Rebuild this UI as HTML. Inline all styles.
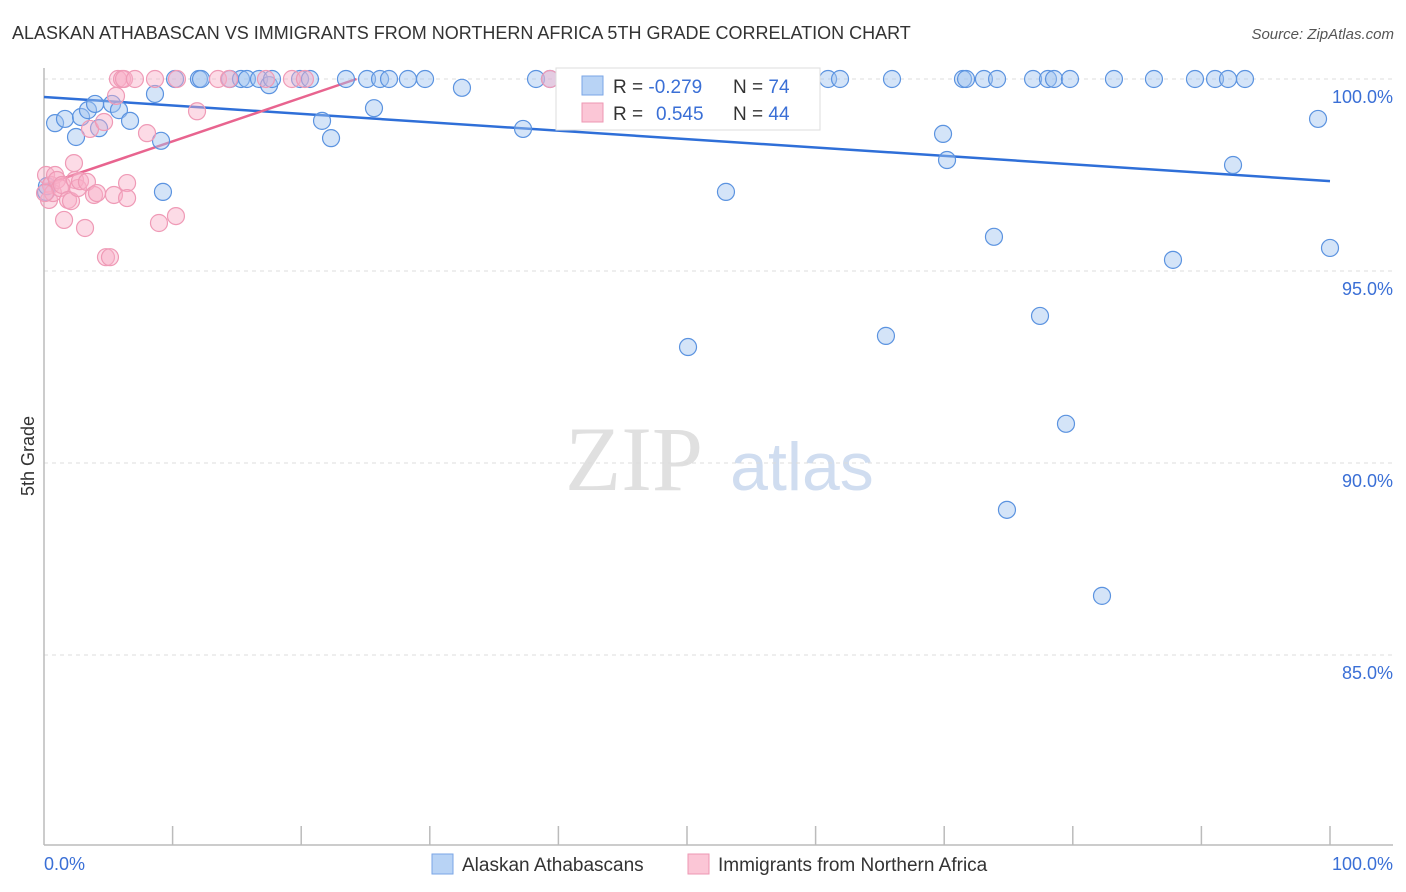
<!DOCTYPE html>
<html><head><meta charset="utf-8"><style>
body{margin:0;background:#fff;font-family:"Liberation Sans",sans-serif;}
svg{display:block}
</style></head><body>
<svg width="1406" height="892" xmlns="http://www.w3.org/2000/svg">
<text x="12" y="39" font-size="18" fill="#333">ALASKAN ATHABASCAN VS IMMIGRANTS FROM NORTHERN AFRICA 5TH GRADE CORRELATION CHART</text>
<text x="1394" y="39" font-size="15" fill="#555" font-style="italic" text-anchor="end">Source: ZipAtlas.com</text>
<g>
<text x="634" y="490" font-size="92" fill="#e0e0e0" font-family="Liberation Serif,serif" text-anchor="middle">ZIP</text>
<text x="802" y="490" font-size="68" fill="#d0ddf0" text-anchor="middle">atlas</text>
</g>
<g id="grid"></g>
<g id="axes"></g>
<text transform="translate(34,456) rotate(-90)" font-size="18" fill="#333" text-anchor="middle">5th Grade</text>
<g id="trend"></g>
<g id="pts"></g>
<g>
<rect x="556" y="68" width="264" height="62" fill="#fff" stroke="#ddd"/>
<rect x="582" y="76" width="21" height="19" fill="#b8d3f5" stroke="#7aa6e6"/>
<rect x="582" y="103" width="21" height="19" fill="#fbc6d6" stroke="#ee97b3"/>
<text x="613" y="93" font-size="19" fill="#333">R = <tspan fill="#3a6fd6">-0.279</tspan></text>
<text x="733" y="93" font-size="19" fill="#333">N = <tspan fill="#3a6fd6">74</tspan></text>
<text x="613" y="120" font-size="19" fill="#333">R = <tspan fill="#3a6fd6" x="656">0.545</tspan></text>
<text x="733" y="120" font-size="19" fill="#333">N = <tspan fill="#3a6fd6">44</tspan></text>
</g>
<g>
<rect x="432" y="854" width="21" height="20" fill="#b8d3f5" stroke="#7aa6e6"/>
<text x="462" y="871" font-size="19" fill="#333">Alaskan Athabascans</text>
<rect x="688" y="854" width="21" height="20" fill="#fbc6d6" stroke="#ee97b3"/>
<text x="718" y="871" font-size="19" fill="#333">Immigrants from Northern Africa</text>
</g>
</svg>
<script>
const yTicks=[100,95,90,85];
const yTickLabels=["100.0%","95.0%","90.0%","85.0%"];
const xTickLabels=["0.0%","100.0%"];
const blueX=[0.86,1.63,2.49,2.88,3.42,3.97,4.28,5.29,5.83,6.69,8.63,9.1,9.25,10.19,12.05,12.21,14.46,15.32,15.78,16.72,17.5,17.73,19.91,20.68,21.62,22.32,23.48,25.12,25.66,26.13,26.83,28.3,29.63,32.5,37.25,38.26,39.35,41.29,50.08,53.03,57.78,60.97,61.9,65.47,65.94,69.91,70.22,71.46,71.7,73.09,73.87,74.11,74.88,76.91,77.45,78.07,78.54,79.47,79.78,82.27,83.2,86.31,87.79,89.5,91.06,92.07,92.46,93.39,99.07,100,0.16,0.23];
const blueY=[98.85,98.96,98.49,99.01,99.19,99.35,98.72,99.35,99.19,98.91,99.61,98.39,97.06,100,100,100,100,100,100,100,99.84,100,100,100,98.91,98.46,100,100,99.24,100,100,100,100,99.77,98.7,100,100,100,93.02,97.06,98.96,100,100,93.31,100,98.57,97.89,100,100,100,95.89,100,88.78,100,93.83,100,100,91.02,100,86.54,100,100,95.29,100,100,100,97.76,100,98.96,95.6,97.06,97.21];
const pinkX=[0.16,0.39,0.54,0.7,0.86,1.01,1.24,1.4,1.56,1.87,2.1,2.33,2.41,2.64,2.8,3.19,3.34,3.58,3.89,4.12,4.67,4.82,5.13,5.44,5.6,5.75,6.07,6.22,6.46,6.46,7.07,8.01,8.63,8.94,10.26,10.34,11.9,13.53,14.39,17.26,19.28,20.29,39.35,0.08];
const pinkY=[97.5,96.85,97.24,97.03,97.5,97.37,97.16,97.24,96.33,96.85,96.82,97.81,97.37,97.16,97.34,96.12,97.32,98.7,96.98,97.03,98.88,95.36,95.36,96.98,99.56,100,100,100,97.29,96.9,100,98.59,100,96.25,96.43,100,99.16,100,100,100,100,100,100,97.03];
const blueTrend=[99.53,97.34];
const pinkTrendX=[0,24.3];
const pinkTrendY=[97.24,100];
const NS="http://www.w3.org/2000/svg";
const X=v=>44+v*12.86;
const Y=v=>79+(100-v)*38.4;
function mk(tag,attrs,parent){const e=document.createElementNS(NS,tag);for(const k in attrs)e.setAttribute(k,attrs[k]);parent.appendChild(e);return e;}
const grid=document.getElementById('grid'),axes=document.getElementById('axes');
yTicks.forEach((t,i)=>{
 const l=mk('line',{x1:44,x2:1393,y1:Y(t),y2:Y(t),stroke:'#ddd','stroke-dasharray':'4,4'},grid);
 
 
 const tx=mk('text',{x:1393,y:Y(t)+24,'font-size':18,fill:'#3a6fd6','text-anchor':'end'},grid);
 tx.textContent=yTickLabels[i];
 
 
});
const ya=mk('line',{x1:44,x2:44,y1:68,y2:845,stroke:'#bbb','stroke-width':1.5},axes);


const xa=mk('line',{x1:44,x2:1393,y1:845,y2:845,stroke:'#bbb','stroke-width':1.5},axes);


for(let i=1;i<=10;i++){
 const t=mk('line',{x1:X(i*10),x2:X(i*10),y1:826,y2:845,stroke:'#bbb','stroke-width':1.5},axes);
 
 
}
[[0,'start'],[100,'end']].forEach((p,i)=>{
 const tx=mk('text',{x:i?1393:44,y:870,'font-size':18,fill:'#3a6fd6','text-anchor':p[1]},axes);
 tx.textContent=xTickLabels[i];
 
 
});
const tr=document.getElementById('trend');
const bl=mk('line',{x1:X(0),y1:Y(blueTrend[0]),x2:X(100),y2:Y(blueTrend[1]),stroke:'#2f6fd8','stroke-width':2.5},tr);


const pl=mk('line',{x1:X(pinkTrendX[0]),y1:Y(pinkTrendY[0]),x2:X(pinkTrendX[1]),y2:Y(pinkTrendY[1]),stroke:'#e8648f','stroke-width':2.5},tr);


const pts=document.getElementById('pts');
blueX.forEach((x,i)=>{
 const c=mk('circle',{cx:X(x),cy:Y(blueY[i]),r:8.5,fill:'rgba(160,196,240,0.45)',stroke:'#5b93e0','stroke-width':1.2},pts);
 
 
});
pinkX.forEach((x,i)=>{
 const c=mk('circle',{cx:X(x),cy:Y(pinkY[i]),r:8.5,fill:'rgba(248,176,200,0.45)',stroke:'#ef9ab6','stroke-width':1.2},pts);
 
 
});
</script>
</body></html>
